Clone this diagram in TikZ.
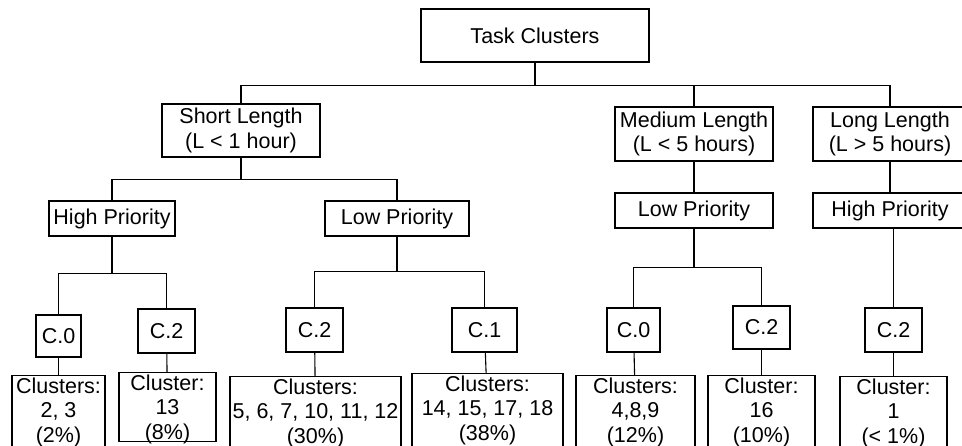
\documentclass[tikz,border=0pt]{standalone}
\usepackage{fontspec}
\setmainfont{Liberation Sans}

\begin{document}
\begin{tikzpicture}[x=1pt,y=-1pt,line width=1.1pt,node font=\fontsize{21.5}{24.5}\selectfont]
	\tikzset{box/.style = {shape=rectangle,draw,align=center,inner sep=0pt}}
	\tikzset{leaf/.style = {box,anchor=north,inner ysep=2pt}}
	\useasboundingbox (0,0) rectangle (962,446);
	\clip (0,0) rectangle (962,446);
	% vertices
	\node[box,minimum width=228,minimum height=53] (root) at (535,35.5) {Task Clusters};
	\node[box,minimum width=158,minimum height=53] (short) at (241,130.5) {Short Length\\(L < 1 hour)};
	\node[box,minimum width=158,minimum height=54] (medium) at (694,134) {Medium Length\\(L < 5 hours)};
	\node[box,minimum width=154,minimum height=54] (long) at (890,134) {Long Length\\(L > 5 hours)};
	\node[box,minimum width=126,minimum height=35] (hpL) at (112,218.5) {High Priority};
	\node[box,minimum width=144,minimum height=35] (lpL) at (397,218.5) {Low Priority};
	\node[box,minimum width=158,minimum height=35] (lpM) at (694,210.5) {Low Priority};
	\node[box,minimum width=154,minimum height=35] (hpR) at (890,210.5) {High Priority};

	\node[box,minimum width=45,minimum height=42] (c0a) at (58.5,336) {C.0};
	\node[box,minimum width=57,minimum height=44] (c2a) at (166.5,331) {C.2};
	\node[box,minimum width=57,minimum height=44] (c2b) at (314.5,330) {C.2};
	\node[box,minimum width=65,minimum height=44] (c1b) at (484.5,330) {C.1};
	\node[box,minimum width=53,minimum height=44] (c0c) at (633.5,330) {C.0};
	\node[box,minimum width=57,minimum height=43] (c2c) at (761.5,327.5) {C.2};
	\node[box,minimum width=57,minimum height=44] (c2d) at (893.5,330) {C.2};

	\node[leaf,minimum width=93] (la) at (58.5,375) {Clusters:\\2, 3\\(2\%)};
	\node[leaf,minimum width=97,text depth=0pt] (lb) at (167.5,372) {Cluster:\\13\\(8\%)};
	\node[leaf,minimum width=171] (lc) at (315.5,376) {Clusters:\\5, 6, 7, 10, 11, 12\\(30\%)};
	\node[leaf,minimum width=151] (ld) at (487.5,373) {Clusters:\\14, 15, 17, 18\\(38\%)};
	\node[leaf,minimum width=119] (le) at (635.5,375) {Clusters:\\4,8,9\\(12\%)};
	\node[leaf,minimum width=107] (lf) at (761.5,375) {Cluster:\\16\\(10\%)};
	\node[leaf,minimum width=107] (lg) at (893.5,376) {Cluster:\\1\\(< 1\%)};

	%edges
	\draw (root.south) -- ++(0,23) coordinate (rbar);
	\draw (rbar) -| (short.north);
	\draw (rbar) -| (long.north);
	\draw (rbar -| medium.north) -- (medium.north);

	\draw (short.south) -- ++(0,22) coordinate (sbar);
	\draw (sbar) -| (hpL.north);
	\draw (sbar) -| (lpL.north);
	\draw (medium) -- (lpM);
	\draw (long) -- (hpR);

	\draw (hpL.south) -- ++(0,37) coordinate (hbar);
	\draw (hbar) -| (c0a.north);
	\draw (hbar) -| (c2a.north);
	\draw (lpL.south) -- ++(0,35) coordinate (lbar);
	\draw (lbar) -| (c2b.north);
	\draw (lbar) -| (c1b.north);
	\draw (lpM.south) -- ++(0,39) coordinate (mbar);
	\draw (mbar) -| (c0c.north);
	\draw (mbar) -| (c2c.north);
	\draw (hpR.south -| c2d.north) -- (c2d.north);

	\draw (c0a) -- (la);
	\draw (c2a) -- (lb);
	\draw (c2b) -- (lc);
	\draw (c1b) -- (ld);
	\draw (c0c) -- (le);
	\draw (c2c) -- (lf);
	\draw (c2d) -- (lg);
\end{tikzpicture}
\end{document}
